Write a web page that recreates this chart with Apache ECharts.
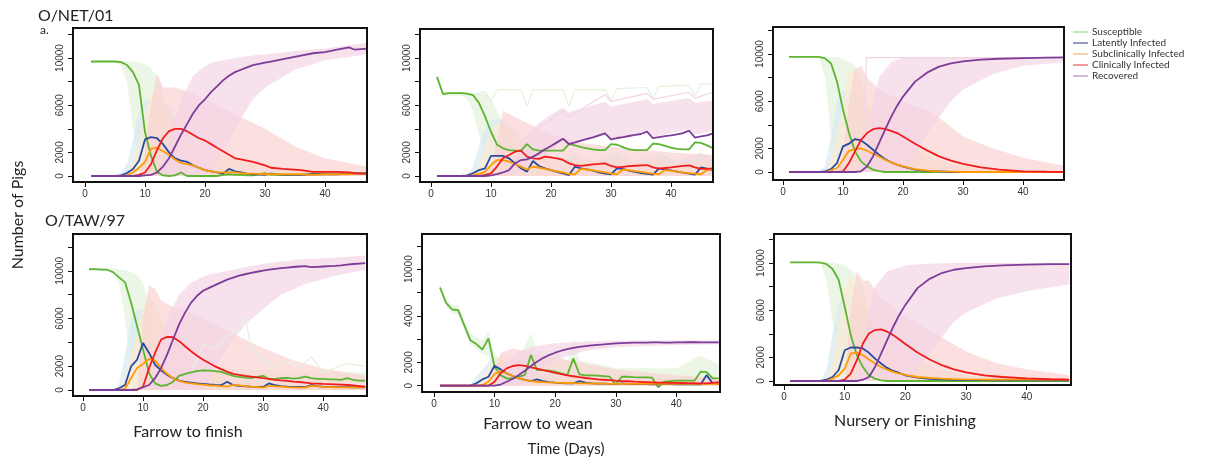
<!DOCTYPE html>
<html>
<head>
<meta charset="utf-8">
<script src="https://cdn.jsdelivr.net/npm/echarts@6/dist/echarts.min.js"></script>
<style>
  html, body { margin: 0; padding: 0; background: #fff; }
  #chart { width: 1212px; height: 457px; }
</style>
</head>
<body>
<div id="chart"></div>
<script>
// ---- data ----
const Y_LABELS = [0, 2000, 6000, 10000];
const STATES = ['Susceptible', 'Latently Infected', 'Subclinically Infected', 'Clinically Infected', 'Recovered'];
const PANEL_TITLES = ['Farrow to finish', 'Farrow to wean', 'Nursery or Finishing'];

// panel 1: O/NET/01, farrow to finish
const days1 = [1,2,3,4,5,6,7,8,9,10,11,12,13,14,15,16,17,18,19,20,21,22,23,24,25,26,27,28,30,31,33,36,38,40,42,44,45,47];
const sus1 = [9700,9700,9700,9700,9700,9650,9400,8800,7700,3700,1700,350,50,0,50,300,0,0,0,0,0,0,100,150,100,100,50,50,250,100,100,100,200,200,200,200,250,250];
const lat1 = [0,0,0,0,0,50,250,600,1300,3100,3300,3200,2700,2000,1500,1300,1200,900,700,500,400,300,200,600,400,300,200,150,100,200,100,100,150,150,150,200,200,200];
const sub1 = [0,0,0,0,0,0,50,300,700,1200,2300,2400,2100,1800,1400,1100,1000,900,700,500,400,300,300,300,300,250,200,200,150,150,150,150,100,150,150,150,200,200];
const cli1 = [0,0,0,0,0,0,0,0,100,300,1000,2200,3200,3800,4000,4000,3800,3500,3200,3000,2700,2400,2100,1800,1500,1400,1300,1200,900,700,600,500,350,350,350,300,250,200];
const rec1 = [0,0,0,0,0,0,0,0,0,50,100,300,800,1500,2500,3500,4400,5300,6000,6500,7100,7600,8100,8500,8800,9000,9200,9400,9600,9700,9900,10200,10400,10500,10700,10900,10700,10800];

// panel 2: O/NET/01, farrow to wean
const days2 = [1,2,3,4,5,6,7,8,9,10,11,12,13,14,15,16,17,18,19,20,21,22,23,24,25,26,27,28,29,30,31,32,33,34,35,36,37,38,39,40,41,42,43,44,45,46,47];
const sus2 = [8400,6950,7030,7030,7030,6980,6860,6200,5050,3750,2650,2350,2200,2150,2150,2700,2250,2150,2150,2150,2150,2150,2700,2600,2450,2350,2250,2200,2200,2700,2650,2450,2250,2200,2200,2200,2750,2700,2550,2400,2300,2250,2250,2850,2800,2600,2350];
const lat2 = [0,0,0,0,0,50,230,500,650,1700,1700,1700,1500,1070,650,370,1270,850,650,500,350,230,80,800,650,560,450,300,200,140,650,600,450,350,250,180,120,650,550,480,380,280,200,120,730,620,500];
const sub2 = [0,0,0,0,0,0,50,200,350,930,1350,1350,1210,1020,790,550,800,700,600,500,400,300,150,150,600,550,480,400,300,200,150,550,500,420,350,270,200,150,500,450,380,300,250,200,150,500,600];
const cli2 = [0,0,0,0,0,0,0,0,100,230,800,1500,1780,2060,2150,1640,1500,1450,1640,1580,1500,1360,1070,930,850,930,980,1020,1070,850,730,780,830,870,900,930,730,620,680,730,800,850,900,730,600,600,650];
const rec2 = [0,0,0,0,0,0,0,0,0,50,150,300,500,1070,1350,1410,1640,1920,2260,2540,2850,3160,2710,2850,3000,3140,3280,3450,3620,3110,3220,3300,3390,3480,3560,3760,3200,3300,3380,3450,3530,3640,3840,3250,3360,3450,3620];

// panel 3: O/NET/01, nursery or finishing
const days3 = [1,2,3,4,5,6,7,8,9,10,11,12,13,14,15,16,17,18,19,20,22,24,26,28,30,33,36,40,44,47];
const sus3 = [9750,9750,9750,9750,9750,9750,9630,9200,7660,5270,3300,1750,900,480,200,80,0,0,0,0,0,0,0,0,0,0,0,0,0,0];
const lat3 = [0,0,0,0,0,0,50,250,760,2170,2400,2790,2680,2310,1890,1460,1100,820,620,450,200,100,50,0,0,0,0,0,0,0];
const sub3 = [0,0,0,0,0,0,0,140,340,1040,1800,1940,2000,1800,1550,1320,1040,820,620,480,250,120,60,30,0,0,0,0,0,0];
const cli3 = [0,0,0,0,0,0,0,0,0,50,760,1750,2730,3300,3630,3720,3660,3490,3300,3010,2400,1830,1320,960,680,390,200,60,20,0];
const rec3 = [0,0,0,0,0,0,0,0,0,0,0,0,60,480,1320,2450,3580,4650,5600,6390,7660,8420,8930,9210,9380,9520,9600,9660,9700,9720];

// panel 4: O/TAW/97, farrow to finish
const days4 = days2;
const sus4 = [10150,10150,10100,10100,9900,9460,9040,7340,5370,3390,1410,560,340,420,700,1190,1360,1470,1580,1640,1620,1580,1520,1360,1190,1100,1050,990,1100,1190,900,930,990,1020,960,990,1130,990,930,930,900,900,850,990,850,790,790];
const lat4 = [0,0,0,0,0,140,420,1980,2540,3950,3110,2120,1640,1270,990,790,680,620,560,510,460,420,400,700,420,340,310,280,270,250,560,400,330,280,260,250,240,420,320,280,260,250,240,240,230,230,230];
const sub4 = [0,0,0,0,0,0,100,990,1840,2180,2600,2490,1840,1360,990,760,620,560,500,450,400,370,320,280,420,390,330,280,250,200,340,310,280,240,220,200,200,340,300,260,240,230,220,220,220,220,230];
const cli4 = [0,0,0,0,0,0,0,0,0,280,1840,3110,4240,4460,4430,4100,3670,3250,2880,2540,2260,1980,1750,1550,1360,1270,1190,1130,1060,990,940,850,800,760,710,670,620,560,540,510,490,470,450,420,380,330,280];
const rec4 = [0,0,0,0,0,0,0,0,60,230,420,990,1840,2970,4240,5510,6500,7340,7910,8330,8580,8810,9040,9270,9440,9600,9720,9830,9930,10030,10100,10170,10230,10280,10330,10370,10400,10310,10340,10370,10400,10430,10470,10530,10580,10620,10650];

// panel 5: O/TAW/97, farrow to wean
const days5 = days2;
const sus5 = [8430,7110,6540,6490,5200,3910,3570,3110,4060,1630,910,630,630,770,910,2630,1340,1340,1290,1200,1060,910,2340,970,890,890,860,830,770,110,770,770,740,720,710,690,-140,340,400,430,430,430,430,1200,1170,630,630];
const lat5 = [0,0,0,0,0,0,200,540,770,1710,1400,1060,830,630,490,400,540,400,310,260,230,200,200,400,260,200,180,170,160,140,200,160,140,130,130,120,110,150,130,110,110,110,110,110,910,200,200];
const sub5 = [0,0,0,0,0,0,0,60,340,1000,1260,1060,830,630,490,400,340,310,290,260,240,230,220,200,200,190,180,170,160,160,150,150,150,150,150,150,150,150,150,150,150,150,150,150,150,150,140];
const cli5 = [0,0,0,0,0,0,0,0,0,340,1060,1490,1690,1770,1710,1570,1460,1340,1230,1110,1000,890,810,730,660,600,550,510,470,430,400,380,350,330,310,290,270,260,250,240,230,220,210,200,200,250,300];
const rec5 = [0,0,0,0,0,0,0,0,0,0,100,340,600,910,1290,1690,2060,2370,2630,2830,3000,3140,3250,3340,3400,3460,3500,3540,3590,3630,3650,3670,3690,3700,3700,3710,3710,3700,3700,3710,3720,3730,3730,3720,3710,3710,3710];

// panel 6: O/TAW/97, nursery or finishing
const days6 = days3;
const sus6 = [10050,10050,10050,10050,10050,10030,9910,9490,8580,6310,3890,2190,1190,480,200,60,0,0,0,0,0,0,0,0,0,0,0,0,0,0];
const lat6 = [0,0,0,0,0,0,110,340,910,2610,2840,2840,2760,2390,1900,1480,1110,850,680,480,280,180,140,100,80,70,60,60,60,60];
const sub6 = [0,0,0,0,0,0,0,200,480,1050,2330,2410,2190,1820,1480,1190,970,770,630,510,340,260,200,160,140,120,110,110,110,110];
const cli6 = [0,0,0,0,0,0,0,0,0,110,620,1760,3180,4030,4320,4380,4180,3890,3520,3130,2410,1820,1340,990,740,480,340,230,150,110];
const rec6 = [0,0,0,0,0,0,0,0,0,0,0,0,110,340,1190,2330,3470,4600,5600,6450,7870,8660,9150,9430,9570,9720,9800,9860,9900,9910];

// spread of the individual simulation runs: [day, low, high]
const gBand1 = [[1,9600,9750],[5,9600,9750],[6,9300,9750],[7,8000,9750],[8,4000,9700],[9,1000,9650],[10,0,9500],[11,0,9100],[12,0,8400],[13,0,7000],[14,0,4000],[15,0,2000],[17,0,400],[18,0,0]];
const lBand1 = [[5,0,0],[6,0,300],[7,0,1000],[8,0,3000],[9,0,5500],[10,0,6500],[12,0,6500],[14,0,6000],[16,0,4000],[18,0,3000],[20,0,2000],[25,0,1000],[30,0,600],[47,0,300]];
const sBand1 = [[6,0,0],[7,0,300],[8,0,1200],[9,0,3000],[10,0,5500],[11,0,7000],[12,0,7500],[14,0,5000],[17,0,3500],[20,0,2500],[25,0,1500],[30,0,800],[47,0,300]];
const cBand1 = [[9,0,0],[10,0,2000],[11,0,6000],[12,0,8700],[13,0,7500],[15,0,7500],[18,0,7000],[22,0,6000],[26,0,5000],[30,0,4000],[35,0,2500],[40,0,1500],[47,0,800]];
const rBand1 = [[12,0,0],[14,0,3000],[16,0,6500],[18,0,8500],[20,0,9300],[21,500,9600],[23,2000,9800],[25,4000,10000],[28,6500,10200],[30,7500,10300],[35,9000,10600],[40,9800,10800],[47,10300,11300]];

const gBand2 = [[1,8200,8600],[2,6800,7100],[5,6800,7100],[6,6500,7050],[7,5500,7000],[8,3500,7000],[9,1500,7000],[10,500,6500],[11,0,5500],[12,0,4500],[13,0,3000],[14,1800,2600]];
const lBand2 = [[6,0,0],[7,0,800],[8,0,2500],[9,0,4000],[10,0,4800],[12,0,4800],[14,0,4000],[16,0,2500],[17,0,3000],[19,0,2000],[22,0,1200],[24,0,2000],[27,0,1200],[31,0,2000],[34,0,1200],[38,0,2000],[41,0,1200],[45,0,2000],[47,0,1500]];
const sBand2 = [[7,0,0],[8,0,1000],[9,0,2500],[10,0,4000],[11,0,4500],[13,0,4000],[16,0,2500],[20,0,1500],[25,0,1300],[47,0,1000]];
const cBand2 = [[9,0,0],[10,0,1000],[11,0,3000],[12,0,5500],[14,0,5000],[16,0,4500],[20,0,3500],[25,0,2800],[30,0,2500],[40,0,2000],[47,0,1800]];
const rBand2 = [[12,0,0],[14,200,1500],[16,800,3500],[18,1500,4500],[20,2200,5200],[22,2900,5800],[23,2600,5400],[29,3500,6300],[30,3100,5900],[36,3800,6500],[37,3300,6100],[43,4000,6600],[44,3500,6200],[47,3800,6400]];
const gGhost2 = [[7,6900],[8,7000],[9,7200],[10,6300],[11,7300],[15,7300],[16,5900],[17,7300],[22,7300],[23,5900],[24,7300],[29,7300],[30,6400],[31,7400],[36,7500],[37,6600],[38,7600],[43,7700],[44,6800],[45,7800],[47,7800]];
const rGhost2 = [[15,3000],[22,5500],[23,5000],[29,6900],[30,6300],[36,7000],[37,6500],[43,7100],[44,6600],[47,7100]];

const gBand3 = [[1,9700,9800],[6,9700,9800],[7,8000,9800],[8,3000,9800],[9,500,9750],[10,0,9600],[12,0,9000],[13,0,8000],[14,0,6000],[15,0,3000],[17,0,500],[18,0,0]];
const lBand3 = [[6,0,0],[7,0,500],[8,0,3000],[9,0,6000],[10,0,7000],[12,0,6500],[14,0,5500],[17,0,4000],[20,0,2500],[25,0,1000],[30,0,300],[47,0,0]];
const sBand3 = [[7,0,0],[8,0,1000],[10,0,6000],[11,0,8500],[12,0,8500],[14,0,6000],[17,0,4000],[20,0,2500],[25,0,1200],[30,0,500],[47,0,100]];
const cBand3 = [[9,0,0],[10,0,1500],[11,0,6000],[12,0,8700],[13,0,9000],[14,0,8000],[16,0,7000],[20,0,6000],[25,0,5000],[30,0,3000],[35,0,2000],[40,0,1200],[47,0,500]];
const rBand3 = [[13,0,0],[14,0,3000],[15,0,6000],[16,0,8000],[18,0,9300],[20,0,9700],[22,1500,9700],[25,4000,9700],[28,6000,9700],[30,7000,9700],[35,8300,9700],[40,9000,9700],[47,9300,9700]];
const rGhost3 = [[13.2,0],[13.9,9700],[47,9700]];

const gBand4 = [[1,10000,10200],[5,10000,10200],[6,9000,10150],[7,6000,10100],[8,2000,9900],[9,500,9600],[10,0,9000],[11,0,7000],[12,0,4000],[13,0,2000],[15,0,1500],[18,0,1800],[47,0,1500]];
const lBand4 = [[5,0,0],[6,0,500],[7,0,3000],[8,0,6000],[9,0,6800],[10,0,6800],[12,0,5500],[14,0,4000],[17,0,2500],[20,0,1500],[25,0,800],[30,0,500],[47,0,300]];
const sBand4 = [[6,0,0],[7,0,1000],[9,0,5000],[10,0,7000],[11,0,8000],[12,0,7000],[14,0,5000],[17,0,3000],[20,0,2000],[25,0,1000],[30,0,500],[47,0,300]];
const cBand4 = [[9,0,0],[10,0,6000],[11,0,8800],[12,0,8500],[13,0,7500],[15,0,7000],[18,0,6500],[22,0,5500],[26,0,4500],[30,0,3500],[35,0,2500],[40,0,1800],[47,0,1200]];
const rBand4 = [[11,0,0],[12,0,2500],[14,0,6000],[16,0,8000],[18,0,9000],[20,0,9500],[21,800,9700],[24,3500,10000],[27,5500,10300],[30,6800,10600],[33,8000,10800],[37,8900,11000],[42,9600,11100],[47,10100,11300]];
const gGhost4 = [[18,1500],[20,3800],[22,3500],[24,4500],[26,5000],[27,6200],[28,3500],[30,2500],[32,2000],[34,2500],[36,1800],[38,2800],[40,1500],[44,2200],[47,2000]];

const gBand5 = [[1,8200,8700],[2,6800,7400],[3,6200,6900],[4,6100,6900],[5,4800,5600],[6,3500,4500],[7,3200,4200],[8,2700,3900],[9,2500,4700],[10,700,2700],[12,0,2000],[14,0,2500],[16,0,4500],[17,0,3000],[20,0,3000],[22,0,2000],[23,0,4000],[24,0,2200],[30,0,1500],[40,0,1500],[44,0,2600],[47,0,1800]];
const lBand5 = [[6,0,0],[7,0,800],[9,0,2000],[10,0,2400],[12,0,2000],[15,0,1300],[20,0,800],[47,0,500]];
const sBand5 = [[7,0,0],[8,0,800],[10,0,2200],[11,0,2500],[13,0,2000],[16,0,1200],[20,0,800],[47,0,400]];
const cBand5 = [[9,0,0],[10,0,1500],[11,0,2800],[13,0,3200],[15,0,3000],[18,0,2600],[22,0,2200],[26,0,1800],[30,0,1400],[40,0,900],[47,0,700]];
const rBand5 = [[10,0,0],[11,0,1000],[12,0,2200],[14,0,2900],[16,500,3300],[18,1500,3500],[20,2200,3650],[25,3000,3800],[30,3300,3850],[40,3500,3900],[47,3550,3900]];

const gBand6 = [[1,10000,10100],[6,10000,10100],[7,8500,10100],[8,5000,10050],[9,1500,9950],[10,200,9800],[11,0,9400],[12,0,9000],[13,0,8000],[14,0,6000],[15,0,3500],[17,0,800],[18,0,0]];
const lBand6 = [[6,0,0],[7,0,1000],[8,0,4000],[9,0,6500],[10,0,7500],[12,0,7000],[14,0,6000],[17,0,4000],[20,0,2500],[25,0,1000],[30,0,400],[47,0,100]];
const sBand6 = [[7,0,0],[8,0,1500],[9,0,5000],[10,0,8000],[11,0,8800],[12,0,8000],[14,0,6000],[17,0,3500],[20,0,2200],[25,0,1000],[30,0,500],[47,0,200]];
const cBand6 = [[10,0,0],[11,0,6000],[12,0,9300],[13,0,8500],[14,0,8500],[16,0,7000],[20,0,5500],[25,0,4000],[30,0,2500],[35,0,1500],[40,0,1000],[47,0,500]];
const rBand6 = [[12,0,0],[13,0,3000],[14,0,6000],[15,0,8000],[17,0,9300],[20,0,9800],[22,1000,9900],[25,3000,9950],[28,5000,10000],[30,5800,10000],[35,7000,10000],[40,7600,10000],[47,8200,10000]];

// ---- layout ----
const MAIN = ['#5cb531', '#2b4c9e', '#ff9a00', '#f21c1c', '#7d3c98'];
const PALE = ['#e4f2dc', '#d7ebf4', '#fdebd0', '#f9d3d2', '#f3d4e6'];
const LEGEND = ['#a9d991', '#5964a6', '#f8b97c', '#ef6464', '#b394cb'];

// box = plot frame in px; x / y = data range covered by the frame
const panels = [
  { box: [73, 28, 367, 182],   x: [-2, 47],      y: [-508, 12540], days: days1, lines: [sus1, lat1, sub1, cli1, rec1], bands: [gBand1, lBand1, sBand1, cBand1, rBand1], ghosts: [] },
  { box: [420, 29, 713, 182],  x: [-1.83, 47],   y: [-508, 12457], days: days2, lines: [sus2, lat2, sub2, cli2, rec2], bands: [gBand2, lBand2, sBand2, cBand2, rBand2], ghosts: [[gGhost2, 0], [rGhost2, 4]] },
  { box: [773, 27, 1064, 180], x: [-1.67, 46.83],y: [-678, 12290], days: days3, lines: [sus3, lat3, sub3, cli3, rec3], bands: [gBand3, lBand3, sBand3, cBand3, rBand3], ghosts: [[rGhost3, 4]] },
  { box: [73, 234, 367, 396],  x: [-1.67, 47.3], y: [-504, 13100], days: days4, lines: [sus4, lat4, sub4, cli4, rec4], bands: [gBand4, lBand4, sBand4, cBand4, rBand4], ghosts: [[gGhost4, 0]] },
  { box: [422, 234, 720, 392], x: [-1.97, 47.2], y: [-541, 13020], days: days5, lines: [sus5, lat5, sub5, cli5, rec5], bands: [gBand5, lBand5, sBand5, cBand5, rBand5], ghosts: [], relabel: { 6000: '4000' } },
  { box: [774, 234, 1071, 385],x: [-1.65, 47.3], y: [-339, 12460], days: days6, lines: [sus6, lat6, sub6, cli6, rec6], bands: [gBand6, lBand6, sBand6, cBand6, rBand6], ghosts: [] }
];

const W = 1212, H = 457;
const tickFont = { fontFamily: 'Liberation Sans', fontSize: 10, color: '#333' };

const grid = [], xAxis = [], yAxis = [], series = [], frames = [];

panels.forEach(function (p, i) {
  const bw = p.box[2] - p.box[0], bh = p.box[3] - p.box[1];
  // the grid starts at day 0 / value 0 so that ticks can be counted from min
  const gl = p.box[0] + (-p.x[0]) * bw / (p.x[1] - p.x[0]);
  const gb = p.box[3] - (-p.y[0]) * bh / (p.y[1] - p.y[0]);
  grid.push({ left: gl, top: p.box[1], width: p.box[2] - gl, height: gb - p.box[1] });
  frames.push({
    type: 'rect', z: 100, silent: true,
    shape: { x: p.box[0], y: p.box[1], width: bw, height: bh },
    style: { fill: 'none', stroke: '#111', lineWidth: 2 }
  });
  xAxis.push({
    type: 'value', gridIndex: i, min: 0, max: p.x[1], interval: 10,
    position: 'bottom', offset: p.box[3] - gb,
    axisLine: { show: true, onZero: false, lineStyle: { color: '#111', width: 1 } },
    splitLine: { show: false },
    axisTick: { show: true, inside: false, length: 5, lineStyle: { color: '#111', width: 1 } },
    axisLabel: Object.assign({ margin: 7, showMaxLabel: false }, tickFont)
  });
  yAxis.push({
    type: 'value', gridIndex: i, min: 0, max: p.y[1], interval: 2000,
    position: 'left', offset: gl - p.box[0],
    axisLine: { show: true, onZero: false, lineStyle: { color: '#111', width: 1 } },
    splitLine: { show: false },
    axisTick: { show: true, inside: false, length: 5, lineStyle: { color: '#111', width: 1 } },
    axisLabel: Object.assign({
      rotate: 90, margin: 8, showMaxLabel: false,
      formatter: function (v) {
        if (Y_LABELS.indexOf(v) < 0) return '';
        return (p.relabel && p.relabel[v]) || String(v);
      }
    }, tickFont)
  });

  // faint bands for the spread of simulation runs
  p.bands.forEach(function (band, k) {
    series.push({
      type: 'custom', xAxisIndex: i, yAxisIndex: i, silent: true, animation: false,
      data: [[band[0][0], band[0][1]]],
      renderItem: function (params, api) {
        const up = band.map(function (b) { return api.coord([b[0], b[2]]); });
        const dn = band.slice().reverse().map(function (b) { return api.coord([b[0], b[1]]); });
        return { type: 'polygon', shape: { points: up.concat(dn) }, style: { fill: PALE[k], opacity: 0.7 } };
      }
    });
  });
  p.ghosts.forEach(function (g) {
    series.push({
      type: 'line', xAxisIndex: i, yAxisIndex: i, data: g[0], showSymbol: false, silent: true,
      animation: false, clip: false, lineStyle: { color: PALE[g[1]], width: 1.2 }
    });
  });

  // mean trajectories
  p.lines.forEach(function (vals, k) {
    series.push({
      name: STATES[k], type: 'line', xAxisIndex: i, yAxisIndex: i,
      data: p.days.map(function (d, j) { return [d, vals[j]]; }),
      showSymbol: false, animation: false, clip: false,
      lineStyle: { color: MAIN[k], width: 1.8 }
    });
  });
});

// texts and legend
const labelFont = 'Lato, "Open Sans", sans-serif';
const graphic = frames.concat([
  { type: 'text', left: 38, top: 8, style: { text: 'O/NET/01', font: '16px ' + labelFont, fill: '#222' } },
  { type: 'text', left: 40, top: 24, style: { text: 'a.', font: '12px ' + labelFont, fill: '#222' } },
  { type: 'text', left: 45, top: 213, style: { text: 'O/TAW/97', font: '16px ' + labelFont, fill: '#222' } },
  { type: 'text', x: 18, y: 215, rotation: Math.PI / 2,
    style: { text: 'Number of Pigs', font: '16px ' + labelFont, fill: '#222', align: 'center', verticalAlign: 'middle' } },
  { type: 'text', x: 188, y: 432, style: { text: PANEL_TITLES[0], font: '16px ' + labelFont, fill: '#222', align: 'center', verticalAlign: 'middle' } },
  { type: 'text', x: 538, y: 424, style: { text: PANEL_TITLES[1], font: '16px ' + labelFont, fill: '#222', align: 'center', verticalAlign: 'middle' } },
  { type: 'text', x: 905, y: 421, style: { text: PANEL_TITLES[2], font: '16px ' + labelFont, fill: '#222', align: 'center', verticalAlign: 'middle' } },
  { type: 'text', x: 566, y: 449, style: { text: 'Time (Days)', font: '15px ' + labelFont, fill: '#222', align: 'center', verticalAlign: 'middle' } }
]);
STATES.forEach(function (s, k) {
  const y = 32 + k * 11;
  graphic.push({ type: 'line', shape: { x1: 1073, y1: y, x2: 1088, y2: y }, style: { stroke: LEGEND[k], lineWidth: 1.3 } });
  graphic.push({ type: 'text', x: 1092, y: y, style: { text: s, font: '10px ' + labelFont, fill: '#333', verticalAlign: 'middle' } });
});

const chart = echarts.init(document.getElementById('chart'), null, { renderer: 'canvas', width: W, height: H });
chart.setOption({
  animation: false,
  backgroundColor: '#fff',
  grid: grid,
  xAxis: xAxis,
  yAxis: yAxis,
  series: series,
  graphic: graphic
});
</script>
</body>
</html>
